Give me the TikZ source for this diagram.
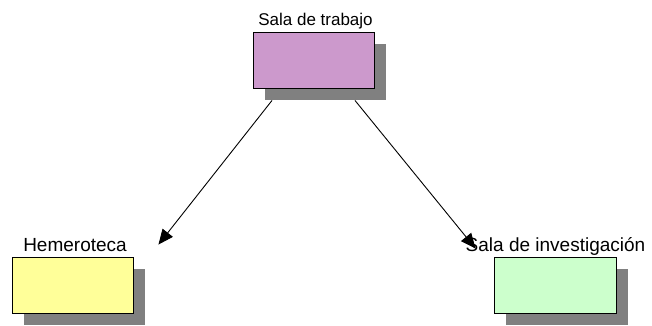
\documentclass[tikz,border=0pt]{standalone}
\usepackage{fontspec}
\setmainfont{Liberation Sans}
\usetikzlibrary{arrows.meta,calc,shadows,positioning}
\definecolor{plum}{HTML}{CC99CC}
\definecolor{paleyellow}{HTML}{FFFF99}
\definecolor{palegreen}{HTML}{CCFFCC}
\definecolor{shadowgray}{HTML}{808080}
\begin{document}
\begin{tikzpicture}[x=1pt,y=1pt,
    room/.style={draw=black, line width=0.9pt, minimum width=121pt, minimum height=56pt, inner sep=0pt,
        drop shadow={shadow xshift=11.5pt, shadow yshift=-12pt, fill=shadowgray, opacity=1}},
    lbl/.style={anchor=base, inner sep=0pt, font=\fontsize{19}{22}\selectfont},
    toplbl/.style={lbl, font=\fontsize{17}{20}\selectfont},
    link/.style={line width=0.9pt, -{Triangle[length=15pt,width=13pt]}}]
    \useasboundingbox (0,0) rectangle (652,-325);
    % rooms
    \node[room, fill=plum] (trabajo) at (313.5,-60) {};
    \node[room, fill=paleyellow] (hemeroteca) at (72.5,-285) {};
    \node[room, fill=palegreen, minimum width=122pt] (investigacion) at (555,-285) {};
    % names
    \node[toplbl] (ltrabajo) at ($(trabajo.north)+(2,6)$) {Sala de trabajo};
    \node[lbl] (lhemeroteca) at ($(hemeroteca.north)+(2.5,5)$) {Hemeroteca};
    \node[lbl] (linvestigacion) at ($(investigacion.north)+(0.5,5)$) {Sala de investigación};
    % arrow ends
    \coordinate (a1) at ($(trabajo.south)+(-41.5,-12)$);
    \coordinate (b1) at ($(hemeroteca.north east)+(25,12)$);
    \coordinate (a2) at ($(trabajo.south)+(41.5,-12)$);
    \coordinate (b2) at ($(investigacion.north west)+(-18,8)$);
    \draw[link] (a1) -- (b1);
    \draw[link] (a2) -- (b2);
\end{tikzpicture}
\end{document}
